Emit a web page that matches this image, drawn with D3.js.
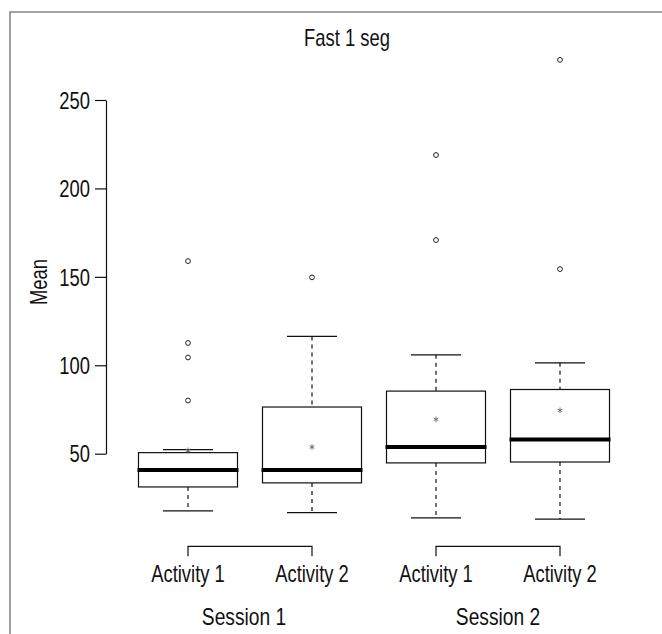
<!DOCTYPE html>
<html><head><meta charset="utf-8">
<script src="https://cdn.jsdelivr.net/npm/d3@7"></script>
<style>
html,body{margin:0;padding:0;background:#fff;}
svg text{font-family:"Liberation Sans",Arial,sans-serif;fill:#111;}
</style></head>
<body>
<svg id="chart" width="662" height="634"></svg>
<script>
const categories = ["Activity 1","Activity 2","Activity 1","Activity 2"];
const sessions = ["Session 1","Session 2"];
const sessionOf = [0,0,1,1];
const lowerWhisker = [17.7, 16.7, 13.7, 13.0];
const q1 = [31.2, 33.5, 44.8, 45.3];
const median = [40.8, 40.8, 53.8, 58.1];
const q3 = [50.6, 76.4, 85.4, 86.3];
const upperWhisker = [52.3, 116.3, 105.9, 101.4];
const means = [51.9, 53.8, 69.4, 74.5];
const outliers = [[158.9,112.6,104.4,80.1],[149.7],[218.9,170.8],[272.7,154.4]];
const yTicks = [50,100,150,200,250];
const title = "Fast 1 seg";
const yLabel = "Mean";

const SX = 0.8; // condensed look
const svg = d3.select("#chart");
const y = d3.scaleLinear().domain([50,250]).range([453.7,100]);
const x = d3.scaleLinear().domain([0,3]).range([188,560]);
const boxHalf = 49.5, capHalf = 25;

function label(sel, tx, ty, str, size, extra){
  return sel.append("text")
    .attr("transform",`translate(${tx},${ty}) ${extra||""} scale(${SX},1)`)
    .attr("text-anchor","middle").attr("font-size",size).text(str);
}

// frame
svg.append("path").attr("d","M10,634V12H662").attr("fill","none").attr("stroke","#858585").attr("stroke-width",1.6);

// title
label(svg, 347, 46, title, 23);

// y axis
const ax = svg.append("g").attr("transform","translate(106,0)")
  .call(d3.axisLeft(y).tickValues(yTicks).tickSize(11).tickSizeOuter(0).tickPadding(5));
ax.selectAll("path,line").attr("stroke","#111").attr("stroke-width",1.2);
ax.selectAll("text").attr("font-size",23).attr("font-family",null).attr("fill","#111")
  .attr("dy","0.36em").attr("x",-16/SX).attr("transform",`scale(${SX},1)`);

label(svg, 47, 282, yLabel, 23, "rotate(-90)");

const g = svg.append("g");
categories.forEach((c,i)=>{
  const cx = x(i);
  [[upperWhisker[i],q3[i]],[q1[i],lowerWhisker[i]]].forEach(([a,b])=>{
    g.append("line").attr("x1",cx).attr("x2",cx).attr("y1",y(a)).attr("y2",y(b))
      .attr("stroke","#111").attr("stroke-width",1.2).attr("stroke-dasharray","4,4");
  });
  [upperWhisker[i],lowerWhisker[i]].forEach(v=>{
    g.append("line").attr("x1",cx-capHalf).attr("x2",cx+capHalf).attr("y1",y(v)).attr("y2",y(v))
      .attr("stroke","#111").attr("stroke-width",1.2);
  });
  g.append("rect").attr("x",cx-boxHalf).attr("width",boxHalf*2)
    .attr("y",y(q3[i])).attr("height",y(q1[i])-y(q3[i]))
    .attr("fill","#fff").attr("stroke","#111").attr("stroke-width",1.2);
  g.append("line").attr("x1",cx-boxHalf-1).attr("x2",cx+boxHalf+1).attr("y1",y(median[i])).attr("y2",y(median[i]))
    .attr("stroke","#000").attr("stroke-width",4);
  outliers[i].forEach(v=>{
    g.append("circle").attr("cx",cx).attr("cy",y(v)).attr("r",2.4)
      .attr("fill","none").attr("stroke","#222").attr("stroke-width",1);
  });
  g.append("path").attr("d",d3.symbol(d3.symbolAsterisk,22)())
    .attr("transform",`translate(${cx},${y(means[i])})`)
    .attr("fill","none").attr("stroke","#666").attr("stroke-width",0.9);
  label(g, cx, 582, c, 23);
});

sessions.forEach((s,k)=>{
  const idx = categories.map((_,i)=>i).filter(i=>sessionOf[i]===k);
  const x0 = x(idx[0]), x1 = x(idx[idx.length-1]);
  svg.append("path").attr("d",`M${x0},556.3V546.3H${x1}V556.3`).attr("fill","none")
    .attr("stroke","#111").attr("stroke-width",1.2);
  label(svg, (x0+x1)/2 - (k===0?6:0), 625, s, 24);
});
</script>
</body></html>
